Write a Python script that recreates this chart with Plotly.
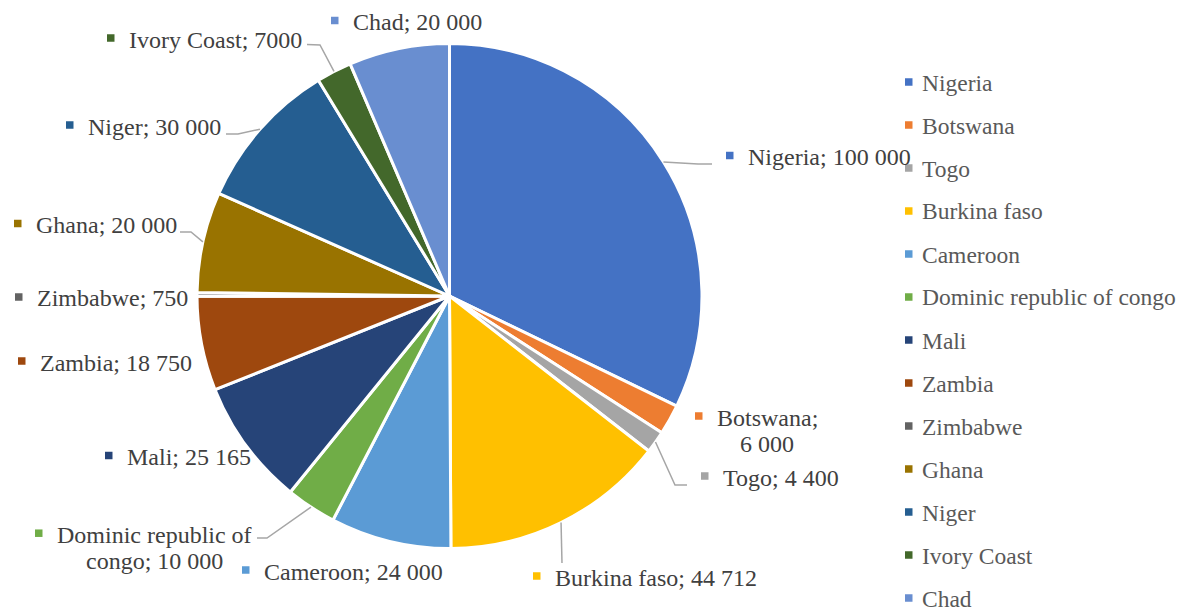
import math
import plotly.graph_objects as go

W, H = 1184, 607

# Data
countries = ["Nigeria", "Botswana", "Togo", "Burkina faso", "Cameroon",
             "Dominic republic of congo", "Mali", "Zambia", "Zimbabwe",
             "Ghana", "Niger", "Ivory Coast", "Chad"]
values = [100000, 6000, 4400, 44712, 24000, 10000, 25165, 18750, 750,
          20000, 30000, 7000, 20000]
value_text = ["100 000", "6 000", "4 400", "44 712", "24 000", "10 000",
              "25 165", "18 750", "750", "20 000", "30 000", "7000", "20 000"]
colors = ["#4472C4", "#ED7D31", "#A5A5A5", "#FFC000", "#5B9BD5", "#70AD47",
          "#264478", "#9E480E", "#636363", "#997300", "#255E91", "#43682B",
          "#698ED0"]

# Pie geometry (pixels)
CX, CY, R = 449.5, 296.0, 252.5

# Label placement: text position (x, cap-centre y, anchor), marker x for
# wrapped labels, and how many words go on the first line when wrapping.
label_layout = {
    "Nigeria":                   dict(tx=747, ty=157.0, anchor="left"),
    "Botswana":                  dict(tx=767, ty=417.5, anchor="center", mx=695, wrap=1),
    "Togo":                      dict(tx=722, ty=477.5, anchor="left"),
    "Burkina faso":              dict(tx=554, ty=577.5, anchor="left"),
    "Cameroon":                  dict(tx=263, ty=571.5, anchor="left"),
    "Dominic republic of congo": dict(tx=154.5, ty=534.7, anchor="center", mx=35, wrap=3),
    "Mali":                      dict(tx=126, ty=457.0, anchor="left"),
    "Zambia":                    dict(tx=39, ty=362.5, anchor="left"),
    "Zimbabwe":                  dict(tx=36, ty=298.5, anchor="left"),
    "Ghana":                     dict(tx=35, ty=225.0, anchor="left"),
    "Niger":                     dict(tx=87, ty=126.5, anchor="left"),
    "Ivory Coast":               dict(tx=128, ty=39.5, anchor="left"),
    "Chad":                      dict(tx=352, ty=22.0, anchor="left"),
}

# Leader lines: elbow and end point next to the label
leaders = {
    "Nigeria":                   [(698, 164), (712, 164)],
    "Togo":                      [(675, 485), (687, 485)],
    "Burkina faso":              [(562, 563), (562, 563)],
    "Dominic republic of congo": [(267, 538), (257, 538)],
    "Ghana":                     [(191, 232), (180, 232)],
    "Niger":                     [(238, 134), (226, 134)],
    "Ivory Coast":               [(320, 45), (307, 44.5)],
}

LABEL_FONT = "Liberation Serif"
LABEL_SIZE = 24
LABEL_COLOR = "#404040"
LEGEND_SIZE = 23.5
LEGEND_COLOR = "#595959"
MARK = 7.5           # square marker size
LINE_H = 26.5        # wrapped label line spacing


def px(x):
    return x / W


def py(y):
    return 1 - y / H


fig = go.Figure()
fig.add_trace(go.Pie(
    labels=countries,
    values=values,
    sort=False,
    direction="clockwise",
    rotation=0,
    marker=dict(colors=colors, line=dict(color="white", width=3)),
    textinfo="none",
    hoverinfo="label+value+percent",
    showlegend=False,
    domain=dict(x=[px(CX - R), px(CX + R)], y=[py(CY + R), py(CY - R)]),
))

shapes = []
annotations = []


def square(xl, yc, color):
    shapes.append(dict(type="rect", xref="paper", yref="paper",
                       x0=px(xl), x1=px(xl + MARK),
                       y0=py(yc + MARK / 2), y1=py(yc - MARK / 2),
                       fillcolor=color, line=dict(width=0)))


def text(x, y, s, anchor, size, color):
    annotations.append(dict(xref="paper", yref="paper", x=px(x), y=py(y),
                            text=s, showarrow=False, xanchor=anchor,
                            yanchor="middle", align=anchor, borderpad=0,
                            font=dict(family=LABEL_FONT, size=size, color=color)))


total = sum(values)
cum = 0.0
for name, v, vt, col in zip(countries, values, value_text, colors):
    mid = (cum + v / 2) / total * 2 * math.pi
    cum += v
    lay = label_layout[name]
    full = f"{name}; {vt}"
    if "wrap" in lay:
        words = full.split(" ")
        lines = [" ".join(words[:lay["wrap"]]), " ".join(words[lay["wrap"]:])]
        for i, ln in enumerate(lines):
            text(lay["tx"], lay["ty"] + i * LINE_H, ln, "center", LABEL_SIZE, LABEL_COLOR)
        square(lay["mx"], lay["ty"] - 1.5, col)
    else:
        text(lay["tx"], lay["ty"], full, "left", LABEL_SIZE, LABEL_COLOR)
        square(lay["tx"] - 21, lay["ty"] - 1.5, col)

    if name in leaders:
        ex = CX + R * math.sin(mid)
        ey = CY - R * math.cos(mid)
        pts = [(ex, ey)] + leaders[name]
        path = "M " + " L ".join(f"{px(a):.5f},{py(b):.5f}" for a, b in pts)
        shapes.append(dict(type="path", xref="paper", yref="paper", path=path,
                           line=dict(color="#A6A6A6", width=1.5)))

# Legend column on the right
LEG_X, LEG_Y0, LEG_STEP = 905, 82, 43
for i, (name, col) in enumerate(zip(countries, colors)):
    yc = LEG_Y0 + i * LEG_STEP
    square(LEG_X, yc, col)
    text(LEG_X + 15.7, yc + 0.5, name, "left", LEGEND_SIZE, LEGEND_COLOR)

fig.update_layout(
    width=W, height=H,
    margin=dict(l=0, r=0, t=0, b=0),
    paper_bgcolor="white",
    plot_bgcolor="white",
    shapes=shapes,
    annotations=annotations,
)

fig.write_html("out.html")
